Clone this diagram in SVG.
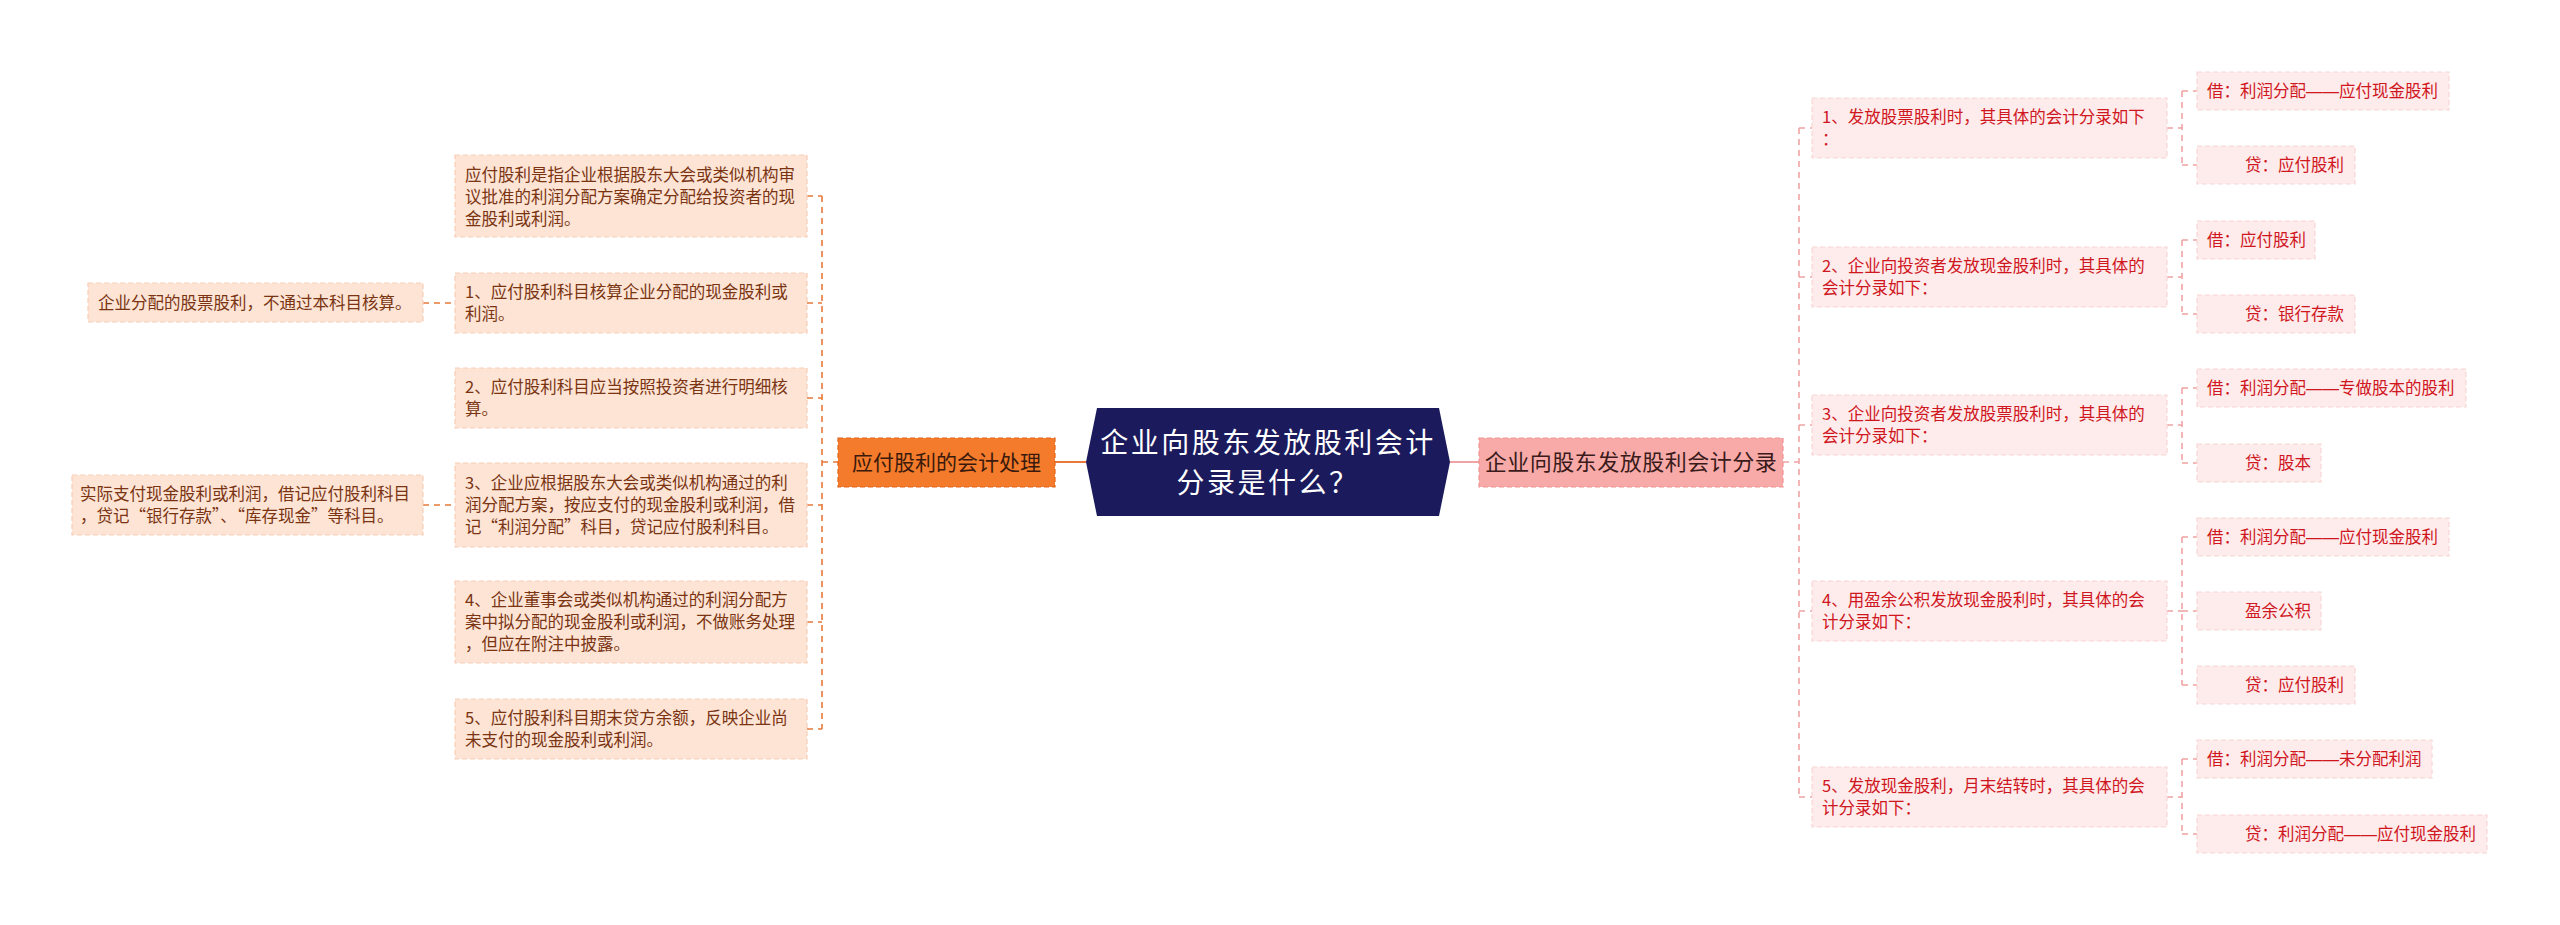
<svg xmlns="http://www.w3.org/2000/svg" width="2560" height="925" viewBox="0 0 2560 925">
<style>
text{font-family:"Noto Sans CJK SC","Noto Sans",sans-serif;}
.lb{fill:#fde4d5;stroke:#f8cdb6;stroke-width:1.2;stroke-dasharray:5,3;}
.lt{font-size:16.5px;fill:#7a3412;}
.rb{fill:#fdeceb;stroke:#f8d6d6;stroke-width:1.2;stroke-dasharray:5,3;}
.rt{font-size:16.5px;fill:#d0161e;}
.dash{font-family:"Liberation Sans",sans-serif;}
.lc{fill:none;stroke:#e8793a;stroke-width:1.6;stroke-dasharray:6,5;}
.rc{fill:none;stroke:#f0a3a3;stroke-width:1.6;stroke-dasharray:6,5;}
</style>
<rect width="2560" height="925" fill="#ffffff"/>
<g id="connectors">
<path class="lc" d="M822,196 V729 M807,196 H822 M807,303 H822 M807,398 H822 M807,505 H822 M807,622 H822 M807,729 H822 M822,462 H838 M423,303 H455 M423,505 H455"/>
<path d="M1055,462 H1086" fill="none" stroke="#e8793a" stroke-width="2"/>
<path d="M1450,462 H1479" fill="none" stroke="#f0a3a3" stroke-width="2"/>
<path class="rc" d="M1799,128 V797 M1783,462 H1799 M1799,128 H1812 M1799,277 H1812 M1799,425 H1812 M1799,611 H1812 M1799,797 H1812"/>
<path class="rc" d="M2167,128 H2182 M2182,91 V165 M2182,91 H2197 M2182,165 H2197"/>
<path class="rc" d="M2167,277 H2182 M2182,240 V314 M2182,240 H2197 M2182,314 H2197"/>
<path class="rc" d="M2167,425 H2182 M2182,388 V463 M2182,388 H2197 M2182,463 H2197"/>
<path class="rc" d="M2167,611 H2182 M2182,537 V685 M2182,537 H2197 M2182,611 H2197 M2182,685 H2197"/>
<path class="rc" d="M2167,797 H2182 M2182,759 V834 M2182,759 H2197 M2182,834 H2197"/>
</g>
<g id="root">
<polygon points="1086,462 1097,408 1439,408 1450,462 1439,516 1097,516" fill="#1b1a5c"/>
<text x="1268" y="453" font-size="28" fill="#ffffff" text-anchor="middle" letter-spacing="2.5">企业向股东发放股利会计</text>
<text x="1268" y="493" font-size="28" fill="#ffffff" text-anchor="middle" letter-spacing="2.5">分录是什么？</text>
</g>
<g id="left-main">
<rect x="838" y="438" width="217" height="49" fill="#f47b2b" stroke="#e0641a" stroke-width="1.2" stroke-dasharray="5,3"/>
<text x="946.5" y="470" font-size="21" fill="#3a1a0c" text-anchor="middle">应付股利的会计处理</text>
</g>
<g id="right-main">
<rect x="1479" y="438" width="304" height="49" fill="#f8aaa8" stroke="#f29393" stroke-width="1.2" stroke-dasharray="5,3"/>
<text x="1631" y="470" font-size="22" fill="#3a1a1a" text-anchor="middle" letter-spacing="0.5">企业向股东发放股利会计分录</text>
</g>
<g id="L0"><rect class="lb" x="455" y="155" width="352" height="82"/>
<text class="lt" x="465" y="181">应付股利是指企业根据股东大会或类似机构审</text>
<text class="lt" x="465" y="203">议批准的利润分配方案确定分配给投资者的现</text>
<text class="lt" x="465" y="225">金股利或利润。</text></g>
<g id="L1"><rect class="lb" x="455" y="273" width="352" height="60"/>
<text class="lt" x="465" y="298">1、应付股利科目核算企业分配的现金股利或</text>
<text class="lt" x="465" y="320">利润。</text></g>
<g id="L1a"><rect class="lb" x="88" y="283" width="335" height="39"/>
<text class="lt" x="98" y="309">企业分配的股票股利，不通过本科目核算。</text></g>
<g id="L2"><rect class="lb" x="455" y="368" width="352" height="60"/>
<text class="lt" x="465" y="393">2、应付股利科目应当按照投资者进行明细核</text>
<text class="lt" x="465" y="415">算。</text></g>
<g id="L3"><rect class="lb" x="455" y="463" width="352" height="84"/>
<text class="lt" x="465" y="489">3、企业应根据股东大会或类似机构通过的利</text>
<text class="lt" x="465" y="511">润分配方案，按应支付的现金股利或利润，借</text>
<text class="lt" x="465" y="533">记“利润分配”科目，贷记应付股利科目。</text></g>
<g id="L3a"><rect class="lb" x="72" y="475" width="351" height="60"/>
<text class="lt" x="80" y="500">实际支付现金股利或利润，借记应付股利科目</text>
<text class="lt" x="80" y="522">，贷记“银行存款”、“库存现金”等科目。</text></g>
<g id="L4"><rect class="lb" x="455" y="581" width="352" height="82"/>
<text class="lt" x="465" y="606">4、企业董事会或类似机构通过的利润分配方</text>
<text class="lt" x="465" y="628">案中拟分配的现金股利或利润，不做账务处理</text>
<text class="lt" x="465" y="650">，但应在附注中披露。</text></g>
<g id="L5"><rect class="lb" x="455" y="699" width="352" height="60"/>
<text class="lt" x="465" y="724">5、应付股利科目期末贷方余额，反映企业尚</text>
<text class="lt" x="465" y="746">未支付的现金股利或利润。</text></g>
<g id="R1"><rect class="rb" x="1812" y="98" width="355" height="60"/>
<text class="rt" x="1822" y="123">1、发放股票股利时，其具体的会计分录如下</text>
<text class="rt" x="1822" y="145">：</text></g>
<g id="R1a"><rect class="rb" x="2197" y="72" width="252" height="38"/><text class="rt" x="2207" y="97">借：利润分配<tspan class="dash">——</tspan>应付现金股利</text></g>
<g id="R1b"><rect class="rb" x="2197" y="146" width="158" height="38"/><text class="rt" x="2245" y="171">贷：应付股利</text></g>
<g id="R2"><rect class="rb" x="1812" y="247" width="355" height="60"/>
<text class="rt" x="1822" y="272">2、企业向投资者发放现金股利时，其具体的</text>
<text class="rt" x="1822" y="294">会计分录如下：</text></g>
<g id="R2a"><rect class="rb" x="2197" y="221" width="118" height="38"/><text class="rt" x="2207" y="246">借：应付股利</text></g>
<g id="R2b"><rect class="rb" x="2197" y="295" width="158" height="38"/><text class="rt" x="2245" y="320">贷：银行存款</text></g>
<g id="R3"><rect class="rb" x="1812" y="395" width="355" height="60"/>
<text class="rt" x="1822" y="420">3、企业向投资者发放股票股利时，其具体的</text>
<text class="rt" x="1822" y="442">会计分录如下：</text></g>
<g id="R3a"><rect class="rb" x="2197" y="369" width="269" height="38"/><text class="rt" x="2207" y="394">借：利润分配<tspan class="dash">——</tspan>专做股本的股利</text></g>
<g id="R3b"><rect class="rb" x="2197" y="444" width="124" height="38"/><text class="rt" x="2245" y="469">贷：股本</text></g>
<g id="R4"><rect class="rb" x="1812" y="581" width="355" height="60"/>
<text class="rt" x="1822" y="606">4、用盈余公积发放现金股利时，其具体的会</text>
<text class="rt" x="1822" y="628">计分录如下：</text></g>
<g id="R4a"><rect class="rb" x="2197" y="518" width="252" height="38"/><text class="rt" x="2207" y="543">借：利润分配<tspan class="dash">——</tspan>应付现金股利</text></g>
<g id="R4b"><rect class="rb" x="2197" y="592" width="124" height="38"/><text class="rt" x="2245" y="617">盈余公积</text></g>
<g id="R4c"><rect class="rb" x="2197" y="666" width="158" height="38"/><text class="rt" x="2245" y="691">贷：应付股利</text></g>
<g id="R5"><rect class="rb" x="1812" y="767" width="355" height="60"/>
<text class="rt" x="1822" y="792">5、发放现金股利，月末结转时，其具体的会</text>
<text class="rt" x="1822" y="814">计分录如下：</text></g>
<g id="R5a"><rect class="rb" x="2197" y="740" width="235" height="38"/><text class="rt" x="2207" y="765">借：利润分配<tspan class="dash">——</tspan>未分配利润</text></g>
<g id="R5b"><rect class="rb" x="2197" y="815" width="290" height="38"/><text class="rt" x="2245" y="840">贷：利润分配<tspan class="dash">——</tspan>应付现金股利</text></g>
</svg>
